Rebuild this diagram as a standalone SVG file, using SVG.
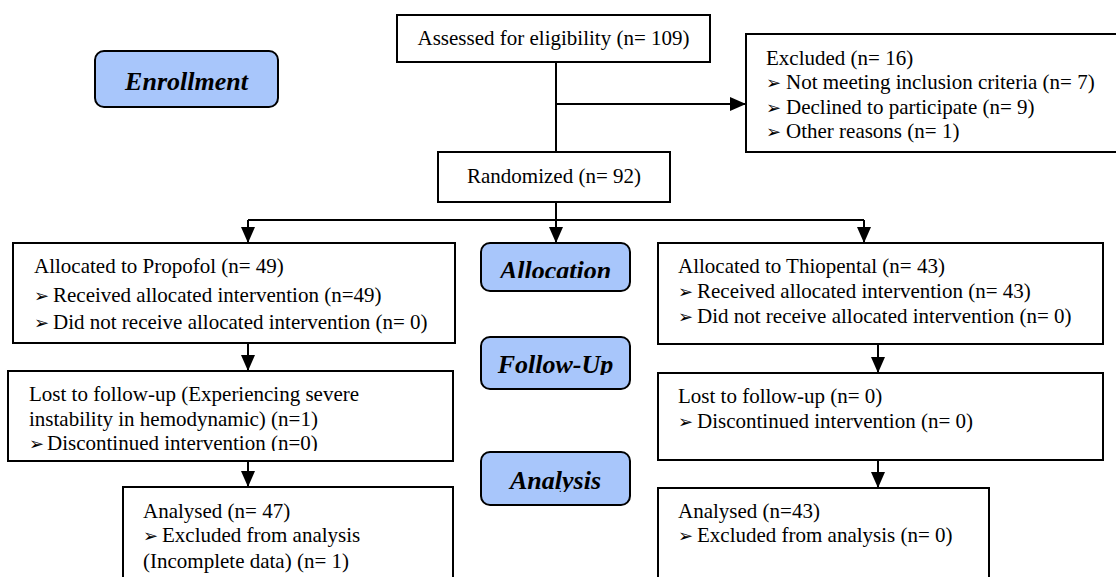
<svg xmlns="http://www.w3.org/2000/svg" width="1116" height="577" viewBox="0 0 1116 577">
<style>
.box{fill:#fff;stroke:#000;stroke-width:2}
.lbl{fill:#a8c6fb;stroke:#000;stroke-width:2}
.t{font-family:"Liberation Serif","Times New Roman",serif;font-size:21px;fill:#000}
.b{font-family:"DejaVu Sans",sans-serif;font-size:18px;fill:#000}
.h{font-family:"Liberation Serif","Times New Roman",serif;font-size:26px;font-weight:bold;font-style:italic;fill:#000}
.c{fill:none;stroke:#000;stroke-width:2}
</style>
<defs>
<marker id="ar" markerUnits="userSpaceOnUse" markerWidth="16" markerHeight="14" refX="16" refY="7" orient="auto">
<path d="M0,0 L16,7 L0,14 z" fill="#000"/>
</marker>
<clipPath id="cA"><rect x="480" y="240" width="152" height="38"/></clipPath>
<clipPath id="cF"><rect x="480" y="335" width="152" height="40"/></clipPath>
<clipPath id="cN"><rect x="480" y="450" width="152" height="42"/></clipPath>
<clipPath id="cL"><rect x="8" y="371" width="446" height="80"/></clipPath>
</defs>

<g id="connectors">
<path class="c" d="M556,62 V152"/>
<path class="c" d="M556,104 H746" marker-end="url(#ar)"/>
<path class="c" d="M556,202 V220"/>
<path class="c" d="M248,220 H864"/>
<path class="c" d="M248,220 V243" marker-end="url(#ar)"/>
<path class="c" d="M556,220 V243" marker-end="url(#ar)"/>
<path class="c" d="M864,220 V243" marker-end="url(#ar)"/>
<path class="c" d="M248,343 V371" marker-end="url(#ar)"/>
<path class="c" d="M248,461 V487" marker-end="url(#ar)"/>
<path class="c" d="M878,344 V373" marker-end="url(#ar)"/>
<path class="c" d="M878,460 V488" marker-end="url(#ar)"/>
</g>

<g id="enrollment">
<rect class="lbl" x="95" y="51" width="183" height="56" rx="9"/>
<text class="h" x="186.5" y="90" text-anchor="middle">Enrollment</text>
</g>

<g id="assessed">
<rect class="box" x="397" y="15" width="313" height="47"/>
<text class="t" x="553.5" y="45" text-anchor="middle">Assessed for eligibility (n= 109)</text>
</g>

<g id="excluded">
<rect class="box" x="746" y="34" width="372" height="118"/>
<text class="t" x="766" y="65">Excluded (n= 16)</text>
<text class="b" x="766" y="89">➢</text><text class="t" x="786" y="89">Not meeting inclusion criteria (n= 7)</text>
<text class="b" x="766" y="114">➢</text><text class="t" x="786" y="114">Declined to participate (n= 9)</text>
<text class="b" x="766" y="138">➢</text><text class="t" x="786" y="138">Other reasons (n= 1)</text>
</g>

<g id="randomized">
<rect class="box" x="438" y="152" width="232" height="50"/>
<text class="t" x="554" y="183" text-anchor="middle">Randomized (n= 92)</text>
</g>

<g id="allocation">
<rect class="lbl" x="481" y="243" width="149" height="48" rx="9"/>
<text class="h" x="555.5" y="279" text-anchor="middle" clip-path="url(#cA)">Allocation</text>
</g>

<g id="followup">
<rect class="lbl" x="481" y="337" width="149" height="52" rx="9"/>
<text class="h" x="555.5" y="373" text-anchor="middle" clip-path="url(#cF)">Follow-Up</text>
</g>

<g id="analysis">
<rect class="lbl" x="481" y="452" width="149" height="53" rx="9"/>
<text class="h" x="555.5" y="489" text-anchor="middle" clip-path="url(#cN)">Analysis</text>
</g>

<g id="propofol">
<rect class="box" x="13" y="243" width="442" height="100"/>
<text class="t" x="34" y="273">Allocated to Propofol (n= 49)</text>
<text class="b" x="34" y="302">➢</text><text class="t" x="53" y="302">Received allocated intervention (n=49)</text>
<text class="b" x="34" y="329">➢</text><text class="t" x="53" y="329">Did not receive allocated intervention (n= 0)</text>
</g>

<g id="propofol-lost">
<rect class="box" x="8" y="371" width="445" height="90"/>
<text class="t" x="29" y="401">Lost to follow-up (Experiencing severe</text>
<text class="t" x="29" y="426">instability in hemodynamic) (n=1)</text>
<g clip-path="url(#cL)">
<text class="b" x="29" y="450">➢</text><text class="t" x="47" y="450">Discontinued intervention (n=0)</text>
</g>
</g>

<g id="propofol-analysed">
<rect class="box" x="123" y="487" width="330" height="110"/>
<text class="t" x="143" y="518">Analysed (n= 47)</text>
<text class="b" x="143" y="542">➢</text><text class="t" x="162" y="542">Excluded from analysis</text>
<text class="t" x="143" y="568">(Incomplete data) (n= 1)</text>
</g>

<g id="thiopental">
<rect class="box" x="658" y="243" width="445" height="101"/>
<text class="t" x="678" y="273">Allocated to Thiopental (n= 43)</text>
<text class="b" x="678" y="298">➢</text><text class="t" x="697" y="298">Received allocated intervention (n= 43)</text>
<text class="b" x="678" y="323">➢</text><text class="t" x="697" y="323">Did not receive allocated intervention (n= 0)</text>
</g>

<g id="thiopental-lost">
<rect class="box" x="658" y="373" width="445" height="87"/>
<text class="t" x="678" y="403">Lost to follow-up (n= 0)</text>
<text class="b" x="678" y="428">➢</text><text class="t" x="697" y="428">Discontinued intervention (n= 0)</text>
</g>

<g id="thiopental-analysed">
<rect class="box" x="658" y="488" width="331" height="110"/>
<text class="t" x="678" y="518">Analysed (n=43)</text>
<text class="b" x="678" y="542">➢</text><text class="t" x="697" y="542">Excluded from analysis (n= 0)</text>
</g>
</svg>
